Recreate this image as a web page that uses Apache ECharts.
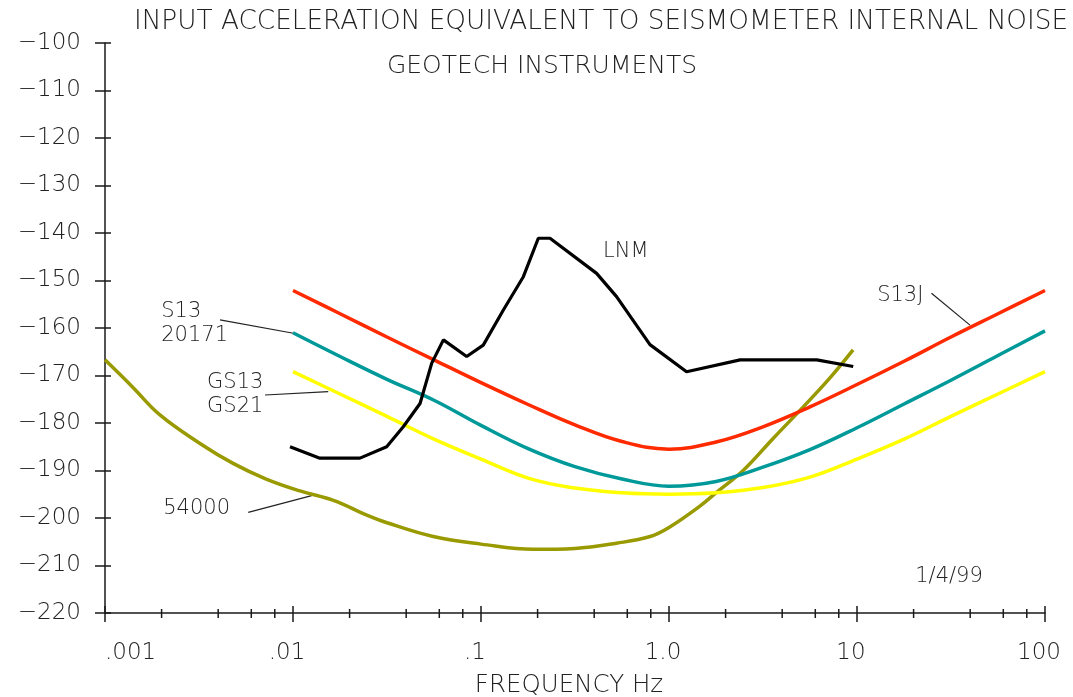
<!DOCTYPE html>
<html>
<head>
<meta charset="utf-8">
<script src="https://cdn.jsdelivr.net/npm/echarts@6/dist/echarts.min.js"></script>
<style>
html,body{margin:0;padding:0;background:#fff;}
#chart{width:1073px;height:697px;}
</style>
</head>
<body>
<div id="chart"></div>
<script>
// ---------- data ----------
const titleText = 'INPUT ACCELERATION EQUIVALENT TO SEISMOMETER INTERNAL NOISE';
const subtitleText = 'GEOTECH INSTRUMENTS';
const xAxisName = 'FREQUENCY Hz';
const xTickLabels = ['.001', '.01', '.1', '1.0', '10', '100'];
const yTickLabels = ['−220', '−210', '−200', '−190', '−180', '−170', '−160', '−150', '−140', '−130', '−120', '−110', '−100'];
const xMinorTicks = [0.002, 0.004, 0.006, 0.008, 0.02, 0.04, 0.06, 0.08, 0.2, 0.4, 0.6, 0.8, 2, 4, 6, 8, 20, 40, 60, 80];

// sensor curves share one frequency list (Hz)
const sensorFreq = [0.01, 0.0178, 0.0316, 0.0562, 0.1, 0.178, 0.316, 0.562, 1, 1.78, 3.16, 5.62, 10, 17.8, 31.6, 56.2, 100];
const s13j  = [-152.1, -157.0, -161.9, -166.7, -171.5, -176.1, -180.4, -183.9, -185.5, -184.0, -180.8, -176.6, -171.9, -167.0, -161.9, -157.0, -152.1];
const s13   = [-161.0, -166.0, -170.8, -175.2, -180.5, -185.4, -189.2, -191.8, -193.3, -192.3, -189.3, -185.6, -181.0, -176.0, -171.0, -165.8, -160.6];
const gs13  = [-169.2, -173.9, -178.6, -183.4, -187.6, -191.6, -193.7, -194.7, -195.0, -194.7, -193.6, -191.4, -187.6, -183.4, -178.6, -173.9, -169.2];

const freq54000 = [0.001, 0.0014, 0.00196, 0.0032, 0.0048, 0.0072, 0.0109, 0.0164, 0.0247, 0.0316, 0.0557, 0.1, 0.19, 0.316, 0.526, 0.794, 1.0, 1.46, 1.79, 2.48, 3.59, 5.18, 7.18, 9.53];
const val54000  = [-166.7, -172.4, -178.3, -184.3, -188.5, -191.8, -194.3, -196.3, -199.4, -201.0, -203.9, -205.5, -206.6, -206.4, -205.3, -203.9, -202.0, -197.5, -194.6, -190.0, -183.2, -176.6, -170.5, -164.6];

const freqLNM = [0.00964, 0.0139, 0.0227, 0.0315, 0.0386, 0.0474, 0.0547, 0.0631, 0.0839, 0.1028, 0.1315, 0.168, 0.2018, 0.2328, 0.412, 0.526, 0.792, 1.24, 2.39, 6.11, 9.55];
const valLNM  = [-185.0, -187.4, -187.4, -185.0, -180.8, -175.9, -167.4, -162.5, -166.0, -163.6, -156.2, -149.2, -141.1, -141.1, -148.5, -153.4, -163.5, -169.2, -166.7, -166.7, -168.1];

// annotations: text, anchor [freq, dB] (left edge, vertical middle)
const annoText   = ['LNM', 'S13J', 'S13\n20171', 'GS13\nGS21', '54000', '1/4/99'];
const annoAnchor = [[0.446, -144.0], [12.8, -153.1], [0.00199, -159.1], [0.00349, -174.0], [0.00204, -198.0], [20.4, -212.4]];
// leader lines: [from, to] in [freq, dB]
const leaders = [
  [[0.00409, -158.3], [0.01005, -161.1]],
  [[0.0071, -174.1], [0.0154, -173.4]],
  [[0.00578, -198.8], [0.01256, -195.3]],
  [[24.9, -152.7], [39.9, -159.4]]
];

// ---------- chart ----------
const FONT = "'DejaVu Sans', sans-serif";
const AX = '#1a1a1a';
const zip = (a, b) => a.map((v, i) => [v, b[i]]);

const chart = echarts.init(document.getElementById('chart'), null, {renderer: 'canvas'});

const lineSeries = (name, data, color, smooth, width) => ({
  name, type: 'line', data, smooth, showSymbol: false, symbol: 'none',
  lineStyle: {color, width: width || 3.5}, z: 3, animation: false
});

const option = {
  animation: false,
  backgroundColor: '#fff',
  grid: {left: 105, right: 28, top: 43, bottom: 84, containLabel: false, outerBoundsMode: 'none'},
  xAxis: [{
    type: 'log', logBase: 10, min: 0.001, max: 100,
    name: xAxisName, nameLocation: 'middle', nameGap: 60,
    nameTextStyle: {fontFamily: FONT, fontSize: 24.5, color: '#222', fontWeight: 200, padding: [0, 12, 0, 0]},
    axisLine: {show: true, lineStyle: {color: AX, width: 1.5}},
    axisTick: {show: true, length: 9, lineStyle: {color: AX, width: 1.5}},
    axisLabel: {
      fontFamily: FONT, fontSize: 23, color: '#222', fontWeight: 200, margin: 29,
      padding: [0, 12, 0, 0], alignMinLabel: 'left',
      formatter: v => xTickLabels[Math.round(Math.log10(v)) + 3]
    },
    splitLine: {show: false}
  }, {
    type: 'log', logBase: 10, min: 0.001, max: 100, position: 'bottom',
    axisLine: {show: false},
    axisTick: {show: true, inside: true, length: 7, lineStyle: {color: AX, width: 1.5}},
    axisLabel: {show: false}, splitLine: {show: false}
  }],
  yAxis: [{
    type: 'value', min: -220, max: -100, interval: 10,
    axisLine: {show: true, lineStyle: {color: AX, width: 1.5}},
    axisTick: {show: true, length: 10, lineStyle: {color: AX, width: 1.5}},
    axisLabel: {
      fontFamily: FONT, fontSize: 23, color: '#222', fontWeight: 200, margin: 24,
      formatter: v => yTickLabels[Math.round((v + 220) / 10)]
    },
    splitLine: {show: false}
  }, {
    type: 'value', min: -220, max: -100, interval: 10, position: 'left',
    axisLine: {show: false},
    axisTick: {show: true, inside: true, length: 6, lineStyle: {color: AX, width: 1.5}},
    axisLabel: {show: false}, splitLine: {show: false}
  }],
  series: [
    lineSeries('54000', zip(freq54000, val54000), '#999900', 0.4),
    lineSeries('GS13 GS21', zip(sensorFreq, gs13), '#ffff00', 0.4),
    lineSeries('S13 20171', zip(sensorFreq, s13), '#009999', 0.4),
    lineSeries('S13J', zip(sensorFreq, s13j), '#ff2a00', 0.4),
    lineSeries('LNM', zip(freqLNM, valLNM), '#000000', false, 3.2),
    {
      type: 'custom', name: 'minor ticks', clip: false, silent: true,
      data: xMinorTicks.map(f => [f, -220]),
      encode: {x: 0, y: 1},
      renderItem: (params, api) => {
        const p = api.coord([api.value(0), api.value(1)]);
        return {type: 'line', shape: {x1: p[0], y1: p[1] - 4, x2: p[0], y2: p[1] + 5},
                style: {stroke: AX, lineWidth: 1.5}};
      },
      z: 5
    }
  ]
};
chart.setOption(option);

// annotations positioned through the axes
const P = c => chart.convertToPixel({xAxisIndex: 0, yAxisIndex: 0}, c);
const graphics = [
  {type: 'text', x: 601, y: 22, style: {text: titleText, fontFamily: FONT, fontSize: 26.3, fontWeight: 200, fill: '#222', align: 'center', verticalAlign: 'middle'}},
  {type: 'text', x: 542, y: 66, style: {text: subtitleText, fontFamily: FONT, fontSize: 25, fontWeight: 200, fill: '#222', align: 'center', verticalAlign: 'middle'}}
];
annoText.forEach((t, i) => {
  const p = P(annoAnchor[i]);
  graphics.push({type: 'text', x: p[0], y: p[1], style: {text: t, fontFamily: FONT, fontSize: 21, fontWeight: 200, fill: '#222', align: 'left', verticalAlign: 'middle', lineHeight: 24}});
});
leaders.forEach(l => {
  const a = P(l[0]), b = P(l[1]);
  graphics.push({type: 'line', shape: {x1: a[0], y1: a[1], x2: b[0], y2: b[1]}, style: {stroke: '#222', lineWidth: 1.2}});
});
chart.setOption({graphic: graphics});
</script>
</body>
</html>
